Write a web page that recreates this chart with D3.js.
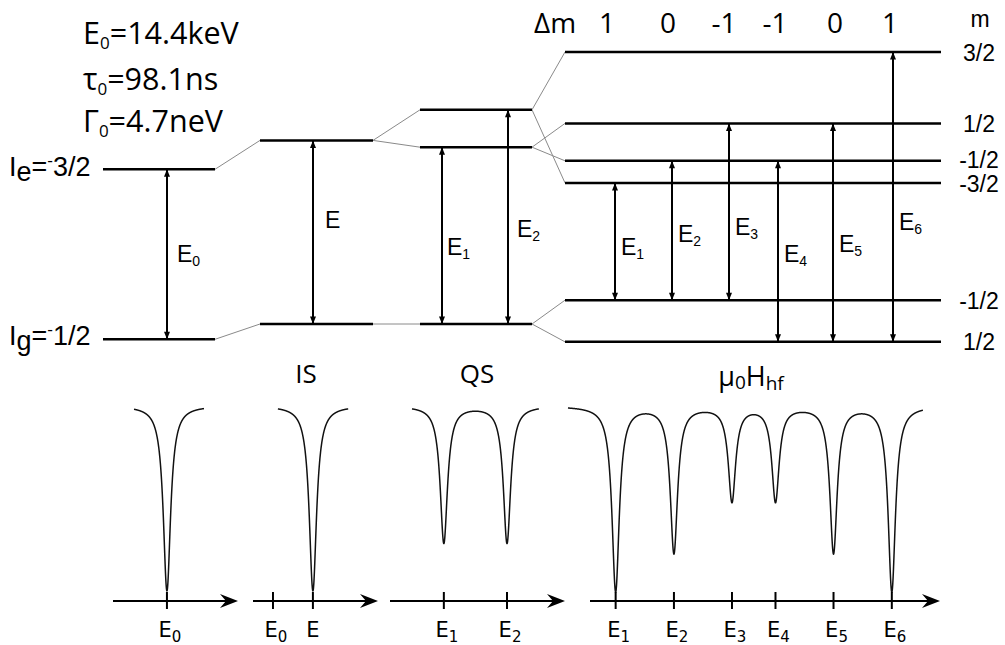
<!DOCTYPE html>
<html>
<head>
<meta charset="utf-8">
<script src="https://cdn.jsdelivr.net/npm/d3@7"></script>
<style>
  html, body { margin: 0; padding: 0; background: #fff; }
  svg { display: block; }
</style>
</head>
<body>
<svg id="chart" width="1005" height="645"></svg>
<script>
// ---------------------------------------------------------------
// 57Fe Mössbauer transition: level scheme and resulting spectra
// ---------------------------------------------------------------

// Nuclear parameters of the 14.4 keV transition
const paramSymbols = ["E", "τ", "Γ"];
const paramValues  = ["=14.4keV", "=98.1ns", "=4.7neV"];

// Level energies (arbitrary units, bare ground state = 0, bare excited = 100)
const bareLevels   = [100, 0];          // Ie = 3/2, Ig = 1/2
const isomerLevels = [117, 9];          // shifted excited / ground
const quadLevels   = [135, 113, 9];     // ±3/2, ±1/2 (excited), ±1/2 (ground)
const zeemanExcited  = [169, 127, 105, 92];   // m = 3/2, 1/2, -1/2, -3/2
const zeemanGround   = [23, -1.5];            // m = -1/2, 1/2
const zeemanExcitedM = ["3/2", "1/2", "-1/2", "-3/2"];
const zeemanGroundM  = ["-1/2", "1/2"];

// Allowed magnetic dipole transitions E1..E6 (excited index -> ground index)
const sextetFrom = [3, 2, 1, 2, 1, 0];
const sextetTo   = [0, 0, 0, 1, 1, 1];
const deltaM     = ["1", "0", "-1", "-1", "0", "1"];

// Spectral lines (velocity scale, mm/s) and relative absorption depths
const singleLine   = [0];
const singleDepth  = [1.0];
const isomerLine   = [1.54];
const isomerDepth  = [1.0];
const quadLines    = [-1.22, 1.22];
const quadDepth    = [0.74, 0.74];
const sextetLines  = [-5.33, -3.08, -0.84, 0.84, 3.08, 5.33];
const sextetDepth  = [1.0, 0.79, 0.51, 0.51, 0.79, 1.0];
const lineHWHM     = 0.17;

// Axis tick labels of the four spectra
const singleTicks  = [{ v: 0, name: "E", sub: "0" }];
const isomerTicks  = [{ v: 0, name: "E", sub: "0" }, { v: 1.54, name: "E", sub: "" }];
const quadTicks    = [{ v: -1.22, name: "E", sub: "1" }, { v: 1.22, name: "E", sub: "2" }];
const sextetTicks  = sextetLines.map((v, i) => ({ v, name: "E", sub: String(i + 1) }));

// ---------------------------------------------------------------
// Layout
// ---------------------------------------------------------------
const svg = d3.select("#chart");
svg.append("rect").attr("width", 1005).attr("height", 645).attr("fill", "#fff");

const ARIAL = "'Liberation Sans', Arial, sans-serif";
const HUMAN = "'Open Sans', 'Noto Sans', sans-serif";
const DEJAVU = "'DejaVu Sans', sans-serif";

// energy -> y for the level scheme
const yLevel = d3.scaleLinear().domain([0, 100]).range([339.3, 169.3]);

const col = [
  { x0: 103, x1: 215 },
  { x0: 260, x1: 373 },
  { x0: 420, x1: 532 },
  { x0: 565, x1: 941 }
];

// arrow markers
const defs = svg.append("defs");
defs.append("marker")
  .attr("id", "head")
  .attr("viewBox", "0 0 10 8")
  .attr("refX", 10).attr("refY", 4)
  .attr("markerWidth", 9).attr("markerHeight", 6)
  .attr("markerUnits", "userSpaceOnUse")
  .attr("orient", "auto-start-reverse")
  .append("path").attr("d", "M0,0 L10,4 L0,8 Z").attr("fill", "#000");

const gLev = svg.append("g");

// thin grey connectors between columns
const connectors = [];
connectors.push([col[0].x1, bareLevels[0], col[1].x0, isomerLevels[0]]);
connectors.push([col[0].x1, bareLevels[1], col[1].x0, isomerLevels[1]]);
connectors.push([col[1].x1, isomerLevels[0], col[2].x0, quadLevels[0]]);
connectors.push([col[1].x1, isomerLevels[0], col[2].x0, quadLevels[1]]);
connectors.push([col[1].x1, isomerLevels[1], col[2].x0, quadLevels[2]]);
connectors.push([col[2].x1, quadLevels[0], col[3].x0, zeemanExcited[0]]);
connectors.push([col[2].x1, quadLevels[0], col[3].x0, zeemanExcited[3]]);
connectors.push([col[2].x1, quadLevels[1], col[3].x0, zeemanExcited[1]]);
connectors.push([col[2].x1, quadLevels[1], col[3].x0, zeemanExcited[2]]);
connectors.push([col[2].x1, quadLevels[2], col[3].x0, zeemanGround[0]]);
connectors.push([col[2].x1, quadLevels[2], col[3].x0, zeemanGround[1]]);

gLev.selectAll("line.conn").data(connectors).join("line")
  .attr("class", "conn")
  .attr("x1", d => d[0]).attr("y1", d => yLevel(d[1]))
  .attr("x2", d => d[2]).attr("y2", d => yLevel(d[3]))
  .attr("stroke", "#8a8a8a").attr("stroke-width", 1);

// level lines
const levelLines = [];
bareLevels.forEach(e => levelLines.push({ c: 0, e }));
isomerLevels.forEach(e => levelLines.push({ c: 1, e }));
quadLevels.forEach(e => levelLines.push({ c: 2, e }));
zeemanExcited.forEach(e => levelLines.push({ c: 3, e }));
zeemanGround.forEach(e => levelLines.push({ c: 3, e }));

gLev.selectAll("line.level").data(levelLines).join("line")
  .attr("class", "level")
  .attr("x1", d => col[d.c].x0).attr("x2", d => col[d.c].x1)
  .attr("y1", d => yLevel(d.e)).attr("y2", d => yLevel(d.e))
  .attr("stroke", "#000").attr("stroke-width", 2.5);

// transitions (double-headed arrows) with labels
const transitions = [
  { x: 167, hi: bareLevels[0], lo: bareLevels[1], sub: "0", lx: 177, ly: 262 },
  { x: 313, hi: isomerLevels[0], lo: isomerLevels[1], sub: "", lx: 325, ly: 228 },
  { x: 442, hi: quadLevels[1], lo: quadLevels[2], sub: "1", lx: 447, ly: 255 },
  { x: 508, hi: quadLevels[0], lo: quadLevels[2], sub: "2", lx: 517, ly: 237 }
];
const sextetArrowX = [615, 672, 729, 778, 833, 893];
const sextetLabelY = [255, 242, 235, 262, 252, 230];
sextetFrom.forEach((f, i) => {
  transitions.push({
    x: sextetArrowX[i], hi: zeemanExcited[f], lo: zeemanGround[sextetTo[i]],
    sub: String(i + 1), lx: sextetArrowX[i] + 6, ly: sextetLabelY[i]
  });
});

gLev.selectAll("line.arrow").data(transitions).join("line")
  .attr("class", "arrow")
  .attr("x1", d => d.x).attr("x2", d => d.x)
  .attr("y1", d => yLevel(d.lo)).attr("y2", d => yLevel(d.hi))
  .attr("stroke", "#000").attr("stroke-width", 2)
  .attr("marker-start", "url(#head)").attr("marker-end", "url(#head)");

const tLab = gLev.selectAll("text.tlab").data(transitions).join("text")
  .attr("class", "tlab")
  .attr("x", d => d.lx).attr("y", d => d.ly)
  .attr("font-family", ARIAL).attr("font-size", 23).attr("fill", "#000");
tLab.append("tspan").text("E");
tLab.append("tspan").attr("font-size", 14).attr("dy", 4).text(d => d.sub);

// left level labels  I_e = ¯3/2, I_g = ¯1/2
function spinLabel(y, sub, val) {
  const t = svg.append("text").attr("x", 9).attr("y", y)
    .attr("font-family", ARIAL).attr("font-size", 27).attr("fill", "#000");
  t.append("tspan").text("I");
  t.append("tspan").attr("dy", 5).text(sub);
  t.append("tspan").attr("dy", -5).text("=");
  t.append("tspan").attr("font-size", 17).attr("dy", -10).text("-");
  t.append("tspan").attr("dy", 10).text(val);
}
spinLabel(yLevel(bareLevels[0]) + 7, "e", "3/2");
spinLabel(yLevel(bareLevels[1]) + 6, "g", "1/2");

// right magnetic quantum numbers
const mLabels = zeemanExcited.map((e, i) => ({ e, t: zeemanExcitedM[i], dy: [8.5, 8.5, 7.5, 9.5][i] }))
  .concat(zeemanGround.map((e, i) => ({ e, t: zeemanGroundM[i], dy: 8.5 })));
svg.selectAll("text.mlab").data(mLabels).join("text")
  .attr("class", "mlab")
  .attr("x", 979).attr("y", d => yLevel(d.e) + d.dy)
  .attr("text-anchor", "middle")
  .attr("font-family", ARIAL).attr("font-size", 23).attr("fill", "#000")
  .text(d => d.t);
svg.append("text").attr("x", 980).attr("y", 27)
  .attr("text-anchor", "middle")
  .attr("font-family", ARIAL).attr("font-size", 23).text("m");

// Δm row
svg.append("text").attr("x", 555).attr("y", 33).attr("text-anchor", "middle")
  .attr("font-family", HUMAN).attr("font-size", 28).text("Δm");
const deltaMX = [607, 668, 724, 775, 835, 890];
svg.selectAll("text.dm").data(deltaM).join("text")
  .attr("class", "dm")
  .attr("x", (d, i) => deltaMX[i]).attr("y", 33)
  .attr("text-anchor", "middle")
  .attr("font-family", HUMAN).attr("font-size", 28).text(d => d);

// nuclear parameters, top left
const paramY = [44, 90, 132];
paramSymbols.forEach((s, i) => {
  const t = svg.append("text").attr("x", 83).attr("y", paramY[i])
    .attr("font-family", HUMAN).attr("font-size", 30.5).attr("fill", "#000");
  t.append("tspan").text(s);
  t.append("tspan").attr("font-size", 17).attr("dy", 5).text("0");
  t.append("tspan").attr("dy", -5).text(paramValues[i]);
});

// ---------------------------------------------------------------
// Spectra
// ---------------------------------------------------------------
const AXIS_Y = 601;
const yT = d3.scaleLinear().domain([0, 1]).range([591, 406]);

const panels = [
  { axis: [113, 238], dom: [-2.08, 2.74], curve: [-1.27, 1.43],
    lines: singleLine, depth: singleDepth, ticks: singleTicks },
  { axis: [253, 378], dom: [-0.77, 4.05], curve: [0.19, 2.90],
    lines: isomerLine, depth: isomerDepth, ticks: isomerTicks },
  { axis: [390, 565], dom: [-3.30, 3.46], curve: [-2.45, 2.45],
    lines: quadLines, depth: quadDepth, ticks: quadTicks },
  { axis: [590, 940], dom: [-6.32, 7.19], curve: [-7.17, 6.53],
    lines: sextetLines, depth: sextetDepth, ticks: sextetTicks }
];

function transmission(v, lines, depth) {
  let a = 0;
  lines.forEach((c, i) => {
    const d = v - c;
    a += depth[i] * lineHWHM * lineHWHM / (d * d + lineHWHM * lineHWHM);
  });
  return 1 - a;
}

panels.forEach(p => {
  const x = d3.scaleLinear().domain(p.dom).range(p.axis);
  const g = svg.append("g");

  // absorption profile
  const vs = d3.range(p.curve[0], p.curve[1], 0.004).concat(p.lines, [p.curve[1]])
    .filter(v => v >= p.curve[0] && v <= p.curve[1]).sort((a, b) => a - b);
  const line = d3.line().x(v => x(v)).y(v => yT(transmission(v, p.lines, p.depth)));
  g.append("path").datum(vs).attr("d", line)
    .attr("fill", "none").attr("stroke", "#111").attr("stroke-width", 1.5);

  // energy axis with arrow
  const tip = p.axis[1];
  g.append("line").attr("x1", p.axis[0]).attr("x2", tip - 8)
    .attr("y1", AXIS_Y).attr("y2", AXIS_Y)
    .attr("stroke", "#000").attr("stroke-width", 2.2);
  g.append("path")
    .attr("d", `M${tip},${AXIS_Y} L${tip - 18},${AXIS_Y - 7} L${tip - 12},${AXIS_Y} L${tip - 18},${AXIS_Y + 7} Z`)
    .attr("fill", "#000");

  g.selectAll("line.tick").data(p.ticks).join("line")
    .attr("class", "tick")
    .attr("x1", d => x(d.v)).attr("x2", d => x(d.v))
    .attr("y1", AXIS_Y - 9).attr("y2", AXIS_Y + 8)
    .attr("stroke", "#000").attr("stroke-width", 2);

  const tl = g.selectAll("text.tl").data(p.ticks).join("text")
    .attr("class", "tl")
    .attr("x", d => x(d.v) + (d.sub ? 3 : 0)).attr("y", 637)
    .attr("text-anchor", "middle")
    .attr("font-family", DEJAVU).attr("font-size", 21).attr("fill", "#000");
  tl.append("tspan").text(d => d.name);
  tl.append("tspan").attr("font-size", 15).attr("dy", 5).text(d => d.sub);
});

// panel titles
svg.append("text").attr("x", 306).attr("y", 383).attr("text-anchor", "middle")
  .attr("font-family", HUMAN).attr("font-size", 26).text("IS");
svg.append("text").attr("x", 477).attr("y", 383).attr("text-anchor", "middle")
  .attr("font-family", HUMAN).attr("font-size", 26).text("QS");
const hf = svg.append("text").attr("x", 751).attr("y", 386).attr("text-anchor", "middle")
  .attr("font-family", HUMAN).attr("font-size", 27);
hf.append("tspan").text("μ");
hf.append("tspan").attr("font-size", 19).attr("dy", 3).text("0");
hf.append("tspan").attr("dy", -3).text("H");
hf.append("tspan").attr("font-size", 19).attr("dy", 4).text("hf");
</script>
</body>
</html>
